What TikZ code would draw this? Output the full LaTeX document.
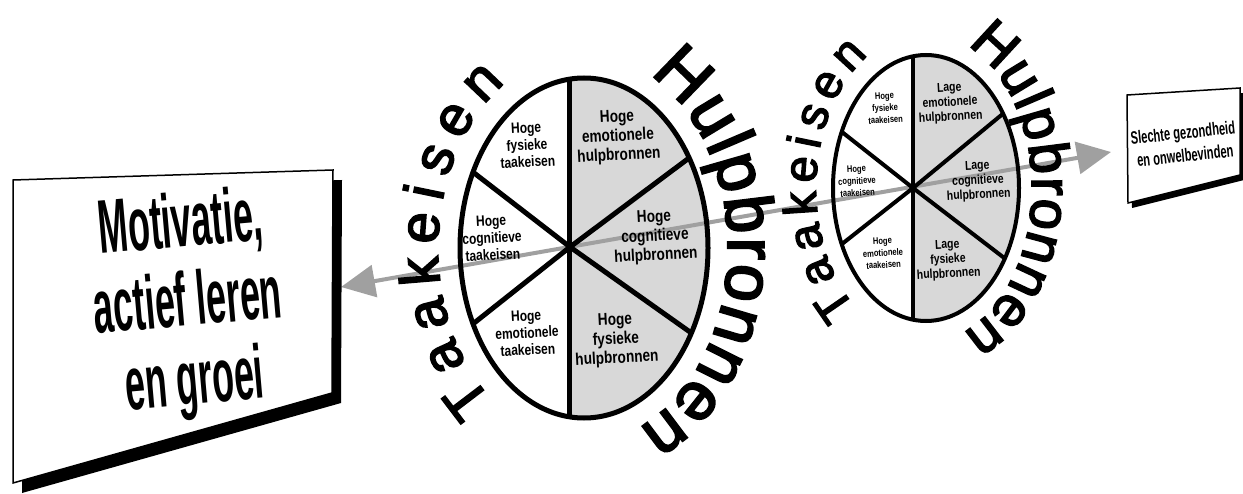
\documentclass[tikz,border=0pt]{standalone}
\usepackage{fontspec}
\setmainfont{Liberation Sans}
\newfontfamily\narrowfont{Liberation Sans}[FakeStretch=0.8]
\newfontfamily\midfont{Liberation Sans}[FakeStretch=0.62]
\newfontfamily\condfont{Liberation Sans}[FakeStretch=0.47]
\newfontfamily\arcfont{Liberation Sans}[FakeBold=3]
\usepackage{xcolor}
\usepackage{tikz}
\usetikzlibrary{arrows.meta, positioning, calc}
\definecolor{segfill}{RGB}{216,216,216}
\definecolor{flowgray}{RGB}{160,160,160}

\begin{document}
\begin{tikzpicture}[
    x=1pt, y=1pt,
    rim/.style={draw=black, line width=5pt},
    spoke/.style={draw=black, line width=5pt, line join=round},
    whitelbl/.style={align=center, rotate=3, font=\narrowfont\bfseries\fontsize{15}{17}\selectfont},
    graylbl/.style={align=center, rotate=3, font=\narrowfont\bfseries\fontsize{17}{19}\selectfont},
    whitelbls/.style={align=center, rotate=3, font=\narrowfont\bfseries\fontsize{9.5}{12}\selectfont},
    graylbls/.style={align=center, rotate=3, font=\narrowfont\bfseries\fontsize{13}{14.5}\selectfont},
    arcletter/.style={inner sep=0pt, anchor=base, font=\arcfont\fontsize{#1}{#1}\selectfont},
    flow/.style={{Triangle[length=34pt,width=32pt]}-{Triangle[length=34pt,width=32pt]},
                 line width=4pt, flowgray},
    card/.style={draw=black, line width=1.5pt, fill=white, line join=miter},
    cardshadow/.style={fill=black}
  ]
    \useasboundingbox (0,0) rectangle (1243,-494);

    % Centres and rim points
    \coordinate (bigc)   at (584,-248);
    \coordinate (bighub) at (570,-247);
    \coordinate (smallc)   at (926,-188);
    \coordinate (smallhub) at (913,-188);
    \coordinate (bt)  at ($(bigc)+(96.5:124pt and 170pt)$);
    \coordinate (bb)  at ($(bigc)+(-96.5:124pt and 170pt)$);
    \coordinate (bul) at ($(bigc)+(153.5:124pt and 170pt)$);
    \coordinate (bll) at ($(bigc)+(206.5:124pt and 170pt)$);
    \coordinate (bur) at ($(bigc)+(32:124pt and 170pt)$);
    \coordinate (blr) at ($(bigc)+(-30:124pt and 170pt)$);
    \coordinate (st)  at ($(smallc)+(98:93pt and 133pt)$);
    \coordinate (sb)  at ($(smallc)+(-98:93pt and 133pt)$);
    \coordinate (sul) at ($(smallc)+(155:93pt and 133pt)$);
    \coordinate (sll) at ($(smallc)+(205:93pt and 133pt)$);
    \coordinate (sur) at ($(smallc)+(34:93pt and 133pt)$);
    \coordinate (slr) at ($(smallc)+(-32:93pt and 133pt)$);
    \coordinate (arrowL) at (341,-287);
    \coordinate (arrowR) at (1111,-152);

    % Resource halves
    \fill[segfill] (bt) arc[start angle=96.5, end angle=-96.5, x radius=124pt, y radius=170pt] -- cycle;
    \fill[segfill] (st) arc[start angle=98, end angle=-98, x radius=93pt, y radius=133pt] -- cycle;

    % Axis arrow
    \draw[flow] (arrowR) -- (arrowL);

    % Spokes and rims
    \draw[spoke] (bt) -- (bb);
    \draw[spoke] (bul) -- (bighub) -- (blr);
    \draw[spoke] (bll) -- (bighub) -- (bur);
    \draw[rim] (bigc) ellipse[x radius=124pt, y radius=170pt];
    \draw[spoke, line width=4pt] (st) -- (sb);
    \draw[spoke, line width=4pt] (sul) -- (smallhub) -- (slr);
    \draw[spoke, line width=4pt] (sll) -- (smallhub) -- (sur);
    \draw[rim, line width=4pt] (smallc) ellipse[x radius=93pt, y radius=133pt];

    % Big wheel labels
    \node[whitelbl] (bfysT) at (527,-145) {Hoge\\fysieke\\taakeisen};
    \node[graylbl]  (bemoH) at (618,-137) {Hoge\\emotionele\\hulpbronnen};
    \node[whitelbl] (bcogT) at (492,-238) {Hoge\\cognitieve\\taakeisen};
    \node[graylbl]  (bcogH) at (655,-237) {Hoge\\cognitieve\\hulpbronnen};
    \node[whitelbl] (bemoT) at (527,-333) {Hoge\\emotionele\\taakeisen};
    \node[graylbl]  (bfysH) at (616,-340) {Hoge\\fysieke\\hulpbronnen};

    % Small wheel labels
    \node[whitelbls] (sfysT) at (885,-108) {Hoge\\fysieke\\taakeisen};
    \node[graylbls]  (semoH) at (950,-103) {Lage\\emotionele\\hulpbronnen};
    \node[whitelbls] (scogT) at (857,-181) {Hoge\\cognitieve\\taakeisen};
    \node[graylbls]  (scogH) at (978,-181) {Lage\\cognitieve\\hulpbronnen};
    \node[whitelbls] (semoT) at (883,-253) {Hoge\\emotionele\\taakeisen};
    \node[graylbls]  (sfysH) at (948,-260) {Lage\\fysieke\\hulpbronnen};

    % Curved headings, one letter at a time
    \foreach \ch/\t [count=\i] in {T/225.6, a/211.5, a/198.5, k/186.4, e/174.4,
                                   i/164.5, s/154.8, e/142.1, n/128.0} {
      \pgfmathsetmacro\rot{atan2(-196*cos(\t), 146*sin(\t))}
      \node[arcletter=56, rotate=\rot] (bigtask\i) at ($(bigc)+(\t:146pt and 196pt)$) {\ch};
    }
    \foreach \ch/\t [count=\i] in {H/54.3, u/39.0, l/29.9, p/21.2, b/9.3, r/-0.2,
                                   o/-9.7, n/-21.7, n/-34.0, e/-47.0, n/-60.9} {
      \pgfmathsetmacro\rot{atan2(-194*cos(\t), 144*sin(\t))}
      \node[arcletter=68, rotate=\rot] (bighelp\i) at ($(bigc)+(\t:144pt and 194pt)$) {\ch};
    }
    \foreach \ch/\t [count=\i] in {T/224.3, a/210.2, a/197.3, k/185.4, e/173.5,
                                   i/163.9, s/154.4, e/141.7, n/127.5} {
      \pgfmathsetmacro\rot{atan2(-156*cos(\t), 110*sin(\t))}
      \node[arcletter=47, rotate=\rot] (smalltask\i) at ($(smallc)+(\t:110pt and 156pt)$) {\ch};
    }
    \foreach \ch/\t [count=\i] in {H/57.6, u/41.5, l/32.0, p/22.8, b/10.4, r/0.5,
                                   o/-9.2, n/-21.3, n/-34.1, e/-47.6, n/-62.1} {
      \pgfmathsetmacro\rot{atan2(-154*cos(\t), 106*sin(\t))}
      \node[arcletter=56, rotate=\rot] (smallhelp\i) at ($(smallc)+(\t:106pt and 154pt)$) {\ch};
    }

    % Outcome cards
    \fill[cardshadow, shift={(9,-10)}] (13,-180) -- (333,-170) -- (332,-393) -- (13,-483) -- cycle;
    \draw[card] (13,-180) -- (333,-170) -- (332,-393) -- (13,-483) -- cycle;
    \node[align=center, rotate=5, font=\condfont\bfseries\fontsize{76}{79}\selectfont] (motiv) at (188,-306)
        {Motivatie,\\actief leren\\en groei};
    \fill[cardshadow, shift={(4,-5)}] (1127,-95) -- (1240,-88) -- (1240,-175) -- (1128,-203) -- cycle;
    \draw[card] (1127,-95) -- (1240,-88) -- (1240,-175) -- (1128,-203) -- cycle;
    \node[align=center, rotate=6, font=\midfont\bfseries\fontsize{18}{23}\selectfont] (health) at (1184,-144)
        {Slechte gezondheid\\en onwelbevinden};
  \end{tikzpicture}
\end{document}
